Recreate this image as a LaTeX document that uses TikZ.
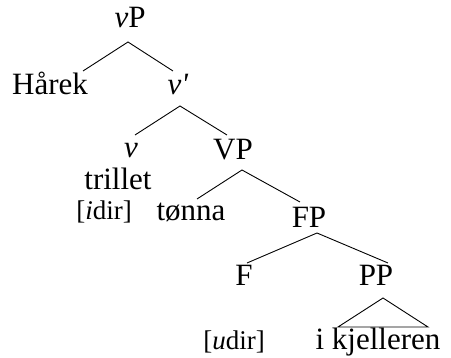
\documentclass[tikz,border=0pt]{standalone}
\usepackage{fontspec}
\setmainfont{Liberation Serif}
\begin{document}
\begin{tikzpicture}[x=1pt,y=-1pt,
  lab/.style={inner sep=0pt,anchor=base,font=\fontsize{31}{35}\selectfont},
  feat/.style={inner sep=0pt,anchor=base,font=\fontsize{27}{31}\selectfont},
  branch/.style={line width=0.9pt,black}]
\useasboundingbox (0,0) rectangle (451,358);
% labels
\node[lab] (vP) at (130,28) {\textit{v}P};
\node[lab] (harek) at (50,95) {Hårek};
\node[lab] (vbar) at (178,95) {\textit{v\textquotesingle}};
\node[lab] (v) at (131,158) {\textit{v}};
\node[lab] (VP) at (233,160) {VP};
\node[lab] (trillet) at (118,190) {trillet};
\node[feat] (idir) at (104,220) {[\textit{i}dir]};
\node[lab] (tonna) at (191,221) {tønna};
\node[lab] (FP) at (309,228) {FP};
\node[lab] (F) at (244,286) {F};
\node[lab] (PP) at (376,286) {PP};
\node[feat] (udir) at (234,350) {[\textit{u}dir]};
\node[lab] (ikj) at (378,350) {i kjelleren};
% branch ends
\coordinate (a1) at (128,42);
\coordinate (a2) at (83,71);
\coordinate (a3) at (173,71);
\coordinate (b1) at (180,106);
\coordinate (b2) at (135,135);
\coordinate (b3) at (227,135);
\coordinate (c1) at (242,170);
\coordinate (c2) at (197,199);
\coordinate (c3) at (300,202);
\coordinate (d1) at (317,233);
\coordinate (d2) at (247,263);
\coordinate (d3) at (388,263);
\coordinate (t1) at (383,298);
\coordinate (t2) at (338,327);
\coordinate (t3) at (428,327);
% branches
\draw[branch] (a2) -- (a1) -- (a3);
\draw[branch] (b2) -- (b1) -- (b3);
\draw[branch] (c2) -- (c1) -- (c3);
\draw[branch] (d2) -- (d1) -- (d3);
\draw[branch] (t1) -- (t2) -- (t3) -- cycle;
\end{tikzpicture}
\end{document}
